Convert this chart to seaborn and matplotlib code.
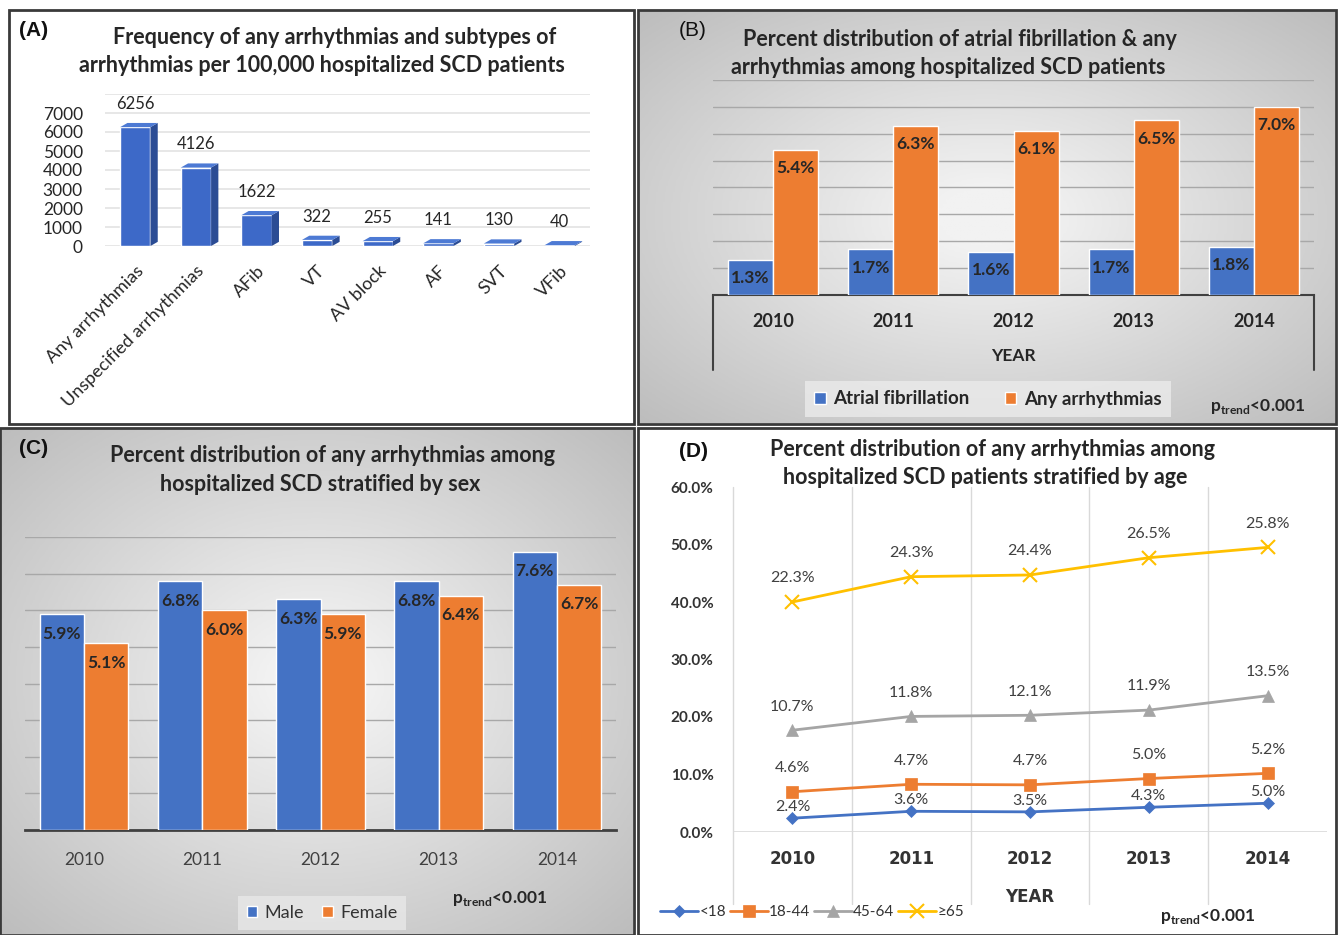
import numpy as np
import pandas as pd
import matplotlib
matplotlib.use("Agg")
import matplotlib.pyplot as plt
from matplotlib.patches import Rectangle, Polygon
from matplotlib.colors import LinearSegmentedColormap
import seaborn as sns

# (A) frequency per 100,000 hospitalized SCD patients
arrhythmia_types = ["Any arrhythmias", "Unspecified arrhythmias", "AFib", "VT",
                    "AV block", "AF", "SVT", "VFib"]
frequency = [6256, 4126, 1622, 322, 255, 141, 130, 40]

years = [2010, 2011, 2012, 2013, 2014]

# (B) atrial fibrillation & any arrhythmias (%)
afib_pct = [1.3, 1.7, 1.6, 1.7, 1.8]
any_pct = [5.4, 6.3, 6.1, 6.5, 7.0]

# (C) by sex (%)
male_pct = [5.9, 6.8, 6.3, 6.8, 7.6]
female_pct = [5.1, 6.0, 5.9, 6.4, 6.7]

# (D) by age group (%), drawn stacked like the original
age_groups = ["<18", "18-44", "45-64", "≥65"]
age_lt18 = [2.4, 3.6, 3.5, 4.3, 5.0]
age_18_44 = [4.6, 4.7, 4.7, 5.0, 5.2]
age_45_64 = [10.7, 11.8, 12.1, 11.9, 13.5]
age_ge65 = [22.3, 24.3, 24.4, 26.5, 25.8]

BLUE = "#4472C4"
ORANGE = "#ED7D31"
GRAY = "#A5A5A5"
YELLOW = "#FFC000"
TXT = "#262626"
TITLE_SIZE = 15.5

sns.set_theme(style="white")
plt.rcParams["font.family"] = ["Lato", "DejaVu Sans"]
plt.rcParams["mathtext.fontset"] = "custom"
plt.rcParams["mathtext.rm"] = "Lato"
plt.rcParams["mathtext.bf"] = "Lato:bold"

W, H = 1338, 935
fig = plt.figure(figsize=(W / 100, H / 100), dpi=100)
fig.patch.set_facecolor("white")


def box(x0, y0, x1, y1):
    # pixel box (top-left origin) -> figure fraction rect
    return [x0 / W, 1 - y1 / H, (x1 - x0) / W, (y1 - y0) / H]


def fx(x):
    return x / W


def fy(y):
    return 1 - y / H


bg_cmap = LinearSegmentedColormap.from_list("bg", ["#f2f2f2", "#bdbdbd"])


def gradient_bg(rect):
    bg = fig.add_axes(rect, zorder=0)
    yy, xx = np.mgrid[-1:1:200j, -1:1:200j]
    r = np.sqrt(xx ** 2 + yy ** 2) / np.sqrt(2)
    bg.imshow(r, cmap=bg_cmap, vmin=0.1, vmax=1.0, aspect="auto", extent=(0, 1, 0, 1))
    bg.axis("off")


def title(x, y, s):
    fig.text(fx(x), fy(y), s, fontsize=TITLE_SIZE, fontweight="bold", color=TXT,
             ha="center", va="center")


def ptrend(x, y):
    fig.text(fx(x), fy(y), r"$\mathbf{p}_{\mathregular{trend}}$<0.001", fontsize=12.5,
             fontweight="bold", color=TXT, ha="center", va="center")


# backgrounds and panel frames
gradient_bg(box(638, 11, 1335, 423))
gradient_bg(box(1, 429, 633, 934))
for (x0, y0, x1, y1) in [(9, 10, 634, 424), (638, 10, 1336, 424),
                         (0, 428, 634, 935), (638, 428, 1336, 935)]:
    fig.add_artist(Rectangle((fx(x0), fy(y1)), (x1 - x0) / W, (y1 - y0) / H,
                             transform=fig.transFigure, fill=False, lw=2,
                             ec="#3a3a3a", zorder=10))

# ---------------- (A) ----------------
axA = fig.add_axes(box(105, 94, 590, 246), zorder=1)
dfA = pd.DataFrame({"type": arrhythmia_types, "freq": frequency})
sns.barplot(data=dfA, x="type", y="freq", color="#3d69c8", width=0.5,
            saturation=1, ax=axA, zorder=3)
dx, dy = 0.12, 220
for p in list(axA.patches):
    x0, w, h = p.get_x(), p.get_width(), p.get_height()
    axA.add_patch(Polygon([(x0 + w, 0), (x0 + w + dx, dy), (x0 + w + dx, h + dy), (x0 + w, h)],
                          closed=True, fc="#2b4c94", ec="none", zorder=3))
    axA.add_patch(Polygon([(x0, h), (x0 + dx, h + dy), (x0 + w + dx, h + dy), (x0 + w, h)],
                          closed=True, fc="#4d7ad4", ec="none", zorder=3))
axA.bar_label(axA.containers[0], labels=[str(v) for v in frequency], padding=11,
              fontsize=12, color=TXT)
axA.set_ylim(0, 8000)
axA.set_yticks(range(0, 8001, 1000),
               labels=[str(v) for v in range(0, 8000, 1000)] + [""])
axA.yaxis.grid(True, color="#e3e3e3", lw=1.2)
axA.set_axisbelow(True)
axA.set_xlim(-0.5, 7.5)
for s in axA.spines.values():
    s.set_visible(False)
axA.tick_params(axis="y", length=0, labelsize=12.5, labelcolor=TXT, pad=16)
axA.tick_params(axis="x", length=0, labelsize=13, labelcolor=TXT, pad=12)
plt.setp(axA.get_xticklabels(), rotation=45, ha="right", rotation_mode="anchor")
axA.set_xlabel("")
axA.set_ylabel("")
axA.set_facecolor("none")
title(335, 37, "Frequency of any arrhythmias and subtypes of")
title(322, 65, "arrhythmias per 100,000 hospitalized SCD patients")
fig.text(fx(34), fy(31), "(A)", fontsize=15, fontweight="bold", family="Liberation Sans",
         color="#111111", ha="center", va="center")

# ---------------- (B) ----------------
axB = fig.add_axes(box(713, 80, 1314, 295), zorder=1)
dfB = pd.DataFrame({"year": [str(y) for y in years] * 2,
                    "pct": afib_pct + any_pct,
                    "series": ["Atrial fibrillation"] * 5 + ["Any arrhythmias"] * 5})
sns.barplot(data=dfB, x="year", y="pct", hue="series", palette=[BLUE, ORANGE],
            width=0.75, saturation=1, ax=axB, zorder=3)
for cont, vals in zip(axB.containers, [afib_pct, any_pct]):
    axB.bar_label(cont, labels=[f"{v:.1f}%" for v in vals], padding=-19,
                  fontsize=12.5, fontweight="bold", color=TXT)
axB.set_ylim(0, 8)
axB.set_yticks(range(0, 9))
axB.yaxis.grid(True, color="#a8a8a8", lw=1)
axB.set_axisbelow(True)
axB.set_facecolor("none")
for k in ["top", "left", "right"]:
    axB.spines[k].set_visible(False)
axB.spines["bottom"].set_color("#404040")
axB.spines["bottom"].set_linewidth(1.5)
for xa in (0, 1):
    axB.plot([xa, xa], [0, -0.35], transform=axB.transAxes, clip_on=False,
             color="#404040", lw=1.5)
axB.set_xlim(-0.5, 4.5)
axB.set_ylim(0, 8)
axB.tick_params(axis="y", length=0, labelleft=False)
axB.tick_params(axis="x", length=0, labelsize=13, labelcolor=TXT, pad=13)
plt.setp(axB.get_xticklabels(), fontweight="bold")
axB.set_xlabel("YEAR", fontsize=12.5, fontweight="bold", color=TXT, labelpad=13)
axB.set_ylabel("")
sns.move_legend(axB, "center", bbox_to_anchor=(fx(988), fy(399)),
                bbox_transform=fig.transFigure, ncol=2, title=None, frameon=True,
                handlelength=0.6, handleheight=0.6, handletextpad=0.4,
                columnspacing=1.9, borderpad=0.5, borderaxespad=0, fancybox=False,
                prop={"weight": "bold", "size": 13.5})
legB = axB.get_legend()
legB.get_frame().set_facecolor("#ebebeb")
legB.get_frame().set_edgecolor("none")
for t in legB.get_texts():
    t.set_color(TXT)
title(960, 39, "Percent distribution of atrial fibrillation & any")
title(948, 67, "arrhythmias among hospitalized SCD patients")
fig.text(fx(693), fy(31), "(B)", fontsize=15, family="Liberation Sans",
         color="#111111", ha="center", va="center")
ptrend(1258, 407)

# ---------------- (C) ----------------
axC = fig.add_axes(box(25, 537, 616, 830), zorder=1)
dfC = pd.DataFrame({"year": [str(y) for y in years] * 2,
                    "pct": male_pct + female_pct,
                    "sex": ["Male"] * 5 + ["Female"] * 5})
sns.barplot(data=dfC, x="year", y="pct", hue="sex", palette=[BLUE, ORANGE],
            width=0.75, saturation=1, ax=axC, zorder=3)
for cont, vals in zip(axC.containers, [male_pct, female_pct]):
    axC.bar_label(cont, labels=[f"{v:.1f}%" for v in vals], padding=-20,
                  fontsize=12.5, fontweight="bold", color=TXT)
axC.set_xlim(-0.5, 4.5)
axC.set_ylim(0, 8)
axC.set_yticks(range(0, 9))
axC.yaxis.grid(True, color="#a8a8a8", lw=1)
axC.set_axisbelow(True)
axC.set_facecolor("none")
for k in ["top", "left", "right"]:
    axC.spines[k].set_visible(False)
axC.spines["bottom"].set_color("#404040")
axC.spines["bottom"].set_linewidth(2)
axC.tick_params(axis="y", length=0, labelleft=False)
axC.tick_params(axis="x", length=0, labelsize=12.5, labelcolor="#404040", pad=16)
axC.set_xlabel("")
axC.set_ylabel("")
sns.move_legend(axC, "center", bbox_to_anchor=(fx(322), fy(913)),
                bbox_transform=fig.transFigure, ncol=2, title=None, frameon=True,
                handlelength=0.6, handleheight=0.6, handletextpad=0.4,
                columnspacing=1.0, borderpad=0.5, fancybox=False,
                prop={"size": 13})
legC = axC.get_legend()
legC.get_frame().set_facecolor("#e8e8e8")
legC.get_frame().set_edgecolor("none")
for t in legC.get_texts():
    t.set_color("#333333")
title(333, 456, "Percent distribution of any arrhythmias among")
title(320, 484, "hospitalized SCD stratified by sex")
fig.text(fx(34), fy(449), "(C)", fontsize=15, fontweight="bold", family="Liberation Sans",
         color="#111111", ha="center", va="center")
ptrend(500, 898)

# ---------------- (D) ----------------
axD = fig.add_axes(box(733, 487, 1327, 832), zorder=1)
series_D = [age_lt18, age_18_44, age_45_64, age_ge65]
colors_D = [BLUE, ORANGE, GRAY, YELLOW]
markers_D = ["D", "s", "^", "x"]
msizes_D = [6.5, 8.5, 8.5, 10]
offsets_D = [8, 17, 17, 17]
stacked = np.cumsum(np.array(series_D), axis=0)
for name, vals, cum, col, mk, ms, off in zip(age_groups, series_D, stacked, colors_D,
                                             markers_D, msizes_D, offsets_D):
    sns.lineplot(x=years, y=cum, color=col, marker=mk, markersize=ms,
                 markeredgecolor=col, markeredgewidth=1.5 if mk == "x" else 0.5,
                 linewidth=2, label=name, ax=axD, zorder=3)
    for xv, yv, v in zip(years, cum, vals):
        axD.annotate(f"{v:.1f}%", (xv, yv), xytext=(0, off), textcoords="offset points",
                     ha="center", va="center", fontsize=11.5, color="#404040")
axD.set_xlim(2009.5, 2014.5)
axD.set_ylim(0, 60)
axD.set_yticks(range(0, 61, 10), labels=[f"{v:.1f}%" for v in range(0, 61, 10)])
axD.set_xticks(years, labels=[str(y) for y in years])
axD.axhline(0, color="#d9d9d9", lw=1.2, zorder=1)
for xv in np.arange(2009.5, 2014, 1.0):
    axD.axvline(xv, ymin=-0.21, ymax=1, clip_on=False, color="#d9d9d9", lw=1, zorder=1)
for s in axD.spines.values():
    s.set_visible(False)
axD.set_facecolor("none")
axD.tick_params(axis="y", length=0, labelsize=11, labelcolor="#333333", pad=14)
axD.tick_params(axis="x", length=0, labelsize=12, labelcolor="#333333", pad=13)
for t in axD.get_yticklabels():
    t.set_fontweight("bold")
for t in axD.get_xticklabels():
    t.set_fontweight("bold")
    t.set_family("DejaVu Sans")
axD.set_xlabel("YEAR", fontsize=12, fontweight="bold", family="DejaVu Sans",
               color="#333333", labelpad=14)
axD.set_ylabel("")
sns.move_legend(axD, "center left", bbox_to_anchor=(fx(654), fy(912)),
                bbox_transform=fig.transFigure, ncol=4, title=None, frameon=False,
                handlelength=2.5, handletextpad=0.1, columnspacing=0.2,
                borderaxespad=0, prop={"size": 11})
for t in axD.get_legend().get_texts():
    t.set_color("#333333")
title(993, 450, "Percent distribution of any arrhythmias among")
title(985, 478, "hospitalized SCD patients stratified by age")
fig.text(fx(694), fy(451), "(D)", fontsize=15, fontweight="bold", family="Liberation Sans",
         color="#111111", ha="center", va="center")
ptrend(1208, 916)

fig.savefig("out.png", dpi=100)
